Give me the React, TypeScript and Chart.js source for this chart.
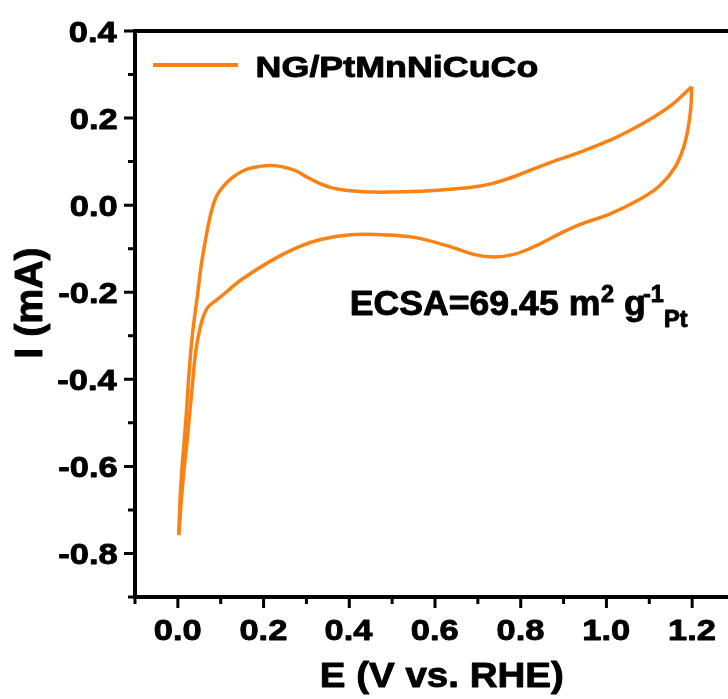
import { useEffect, useRef } from "react";
import { Chart, registerables } from "chart.js";
Chart.register(...registerables);

// ---- data ----
const seriesLabel = "NG/PtMnNiCuCo";
// anodic scan (0 V -> 1.2 V)
const anodicE = [0.002, 0.007, 0.019, 0.027, 0.034, 0.046, 0.055, 0.064, 0.078, 0.09, 0.106, 0.127, 0.147, 0.165, 0.19, 0.217, 0.245, 0.275, 0.302, 0.333, 0.372, 0.434, 0.496, 0.566, 0.644, 0.706, 0.735, 0.765, 0.799, 0.861, 0.939, 1.01, 1.048, 1.11, 1.156, 1.199];
const anodicI = [-0.758, -0.643, -0.489, -0.374, -0.297, -0.205, -0.135, -0.082, -0.015, 0.02, 0.043, 0.063, 0.076, 0.084, 0.089, 0.091, 0.088, 0.079, 0.064, 0.049, 0.037, 0.031, 0.03, 0.032, 0.037, 0.044, 0.05, 0.059, 0.071, 0.095, 0.122, 0.15, 0.168, 0.202, 0.233, 0.272];
// cathodic scan (1.2 V -> 0 V)
const cathodicE = [1.199, 1.197, 1.191, 1.18, 1.16, 1.125, 1.079, 1.009, 0.939, 0.888, 0.83, 0.784, 0.737, 0.69, 0.628, 0.551, 0.473, 0.403, 0.333, 0.279, 0.217, 0.147, 0.115, 0.093, 0.069, 0.054, 0.042, 0.034, 0.023, 0.011, 0.002];
const cathodicI = [0.272, 0.225, 0.179, 0.133, 0.087, 0.045, 0.014, -0.02, -0.044, -0.067, -0.096, -0.113, -0.119, -0.113, -0.093, -0.074, -0.068, -0.068, -0.079, -0.097, -0.128, -0.172, -0.198, -0.216, -0.236, -0.274, -0.335, -0.412, -0.527, -0.643, -0.758];

const xMajorTicks = [0, 0.2, 0.4, 0.6, 0.8, 1.0, 1.2];
const xMinorTicks = [-0.1, 0.1, 0.3, 0.5, 0.7, 0.9, 1.1, 1.3];
const yMajorTicks = [0.4, 0.2, 0, -0.2, -0.4, -0.6, -0.8];
const yMinorTicks = [0.3, 0.1, -0.1, -0.3, -0.5, -0.7, -0.9];
const xTitle = "E (V vs. RHE)";
const yTitle = "I (mA)";
const ecsaText = "ECSA=69.45 m";

const COLOR = "#FA8214";
const FONT = '"Liberation Sans", Arial, Helvetica, sans-serif';

function extents(ctx: CanvasRenderingContext2D, text: string, size: number) {
  ctx.font = `bold ${size}px ${FONT}`;
  ctx.textAlign = "left";
  ctx.textBaseline = "alphabetic";
  const m = ctx.measureText(text);
  return { l: m.actualBoundingBoxLeft, w: m.actualBoundingBoxLeft + m.actualBoundingBoxRight, adv: m.width };
}

// draw text with horizontal scale sx; x refers to glyph box (left/center/right)
function drawScaled(ctx: CanvasRenderingContext2D, text: string, size: number, sx: number, x: number, baseline: number, align: string) {
  const e = extents(ctx, text, size);
  const wS = e.w * sx;
  const left = align === "left" ? x : align === "right" ? x - wS : x - wS / 2;
  ctx.save();
  ctx.translate(left, baseline);
  ctx.scale(sx, 1);
  ctx.fillText(text, e.l, 0);
  ctx.lineWidth = 0.9;
  ctx.strokeStyle = ctx.fillStyle as string;
  ctx.lineJoin = "round";
  ctx.strokeText(text, e.l, 0);
  ctx.restore();
  return left + wS;
}

function fitScale(ctx: CanvasRenderingContext2D, text: string, size: number, target: number) {
  return target / extents(ctx, text, size).w;
}

const decor = {
  id: "decor",
  afterDraw(chart: any) {
    const { ctx, chartArea, scales } = chart;
    const { left, top, right, bottom } = chartArea;
    const xs = scales.x;
    const ys = scales.y;
    ctx.save();
    ctx.fillStyle = "#000";
    ctx.strokeStyle = "#000";

    // ticks
    ctx.lineWidth = 3;
    ctx.lineCap = "butt";
    ctx.beginPath();
    xMajorTicks.forEach((v) => {
      const p = xs.getPixelForValue(v);
      ctx.moveTo(p, bottom);
      ctx.lineTo(p, bottom + 11);
    });
    xMinorTicks.forEach((v) => {
      const p = xs.getPixelForValue(v);
      ctx.moveTo(p, bottom);
      ctx.lineTo(p, bottom + 7);
    });
    yMajorTicks.forEach((v) => {
      const p = ys.getPixelForValue(v);
      ctx.moveTo(left, p);
      ctx.lineTo(left - 11, p);
    });
    yMinorTicks.forEach((v) => {
      const p = ys.getPixelForValue(v);
      ctx.moveTo(left, p);
      ctx.lineTo(left - 7, p);
    });
    ctx.stroke();

    // frame (left, bottom, top; right edge lies outside view)
    ctx.lineWidth = 4;
    ctx.strokeRect(left, top, right - left, bottom - top);

    // tick labels
    const tickSize = 30;
    const tsx = fitScale(ctx, "0.0", tickSize, 46);
    xMajorTicks.forEach((v) => {
      drawScaled(ctx, v.toFixed(1), tickSize, tsx, xs.getPixelForValue(v), 640, "center");
    });
    yMajorTicks.forEach((v) => {
      const lab = v.toFixed(1).replace("-0.0", "0.0");
      drawScaled(ctx, lab, tickSize, tsx, 117, ys.getPixelForValue(v) + 10.5, "right");
    });

    // axis titles
    const xtS = fitScale(ctx, xTitle, 35, 240);
    drawScaled(ctx, xTitle, 35, xtS, 442, 687, "center");
    ctx.save();
    ctx.translate(42, 302.5);
    ctx.rotate(-Math.PI / 2);
    ctx.scale(1, 1.09);
    const ytS = fitScale(ctx, yTitle, 36, 108);
    drawScaled(ctx, yTitle, 36, ytS, 0, 0, "center");
    ctx.restore();

    // legend
    const ds = chart.data.datasets[0];
    ctx.strokeStyle = ds.borderColor;
    ctx.lineWidth = 4;
    ctx.beginPath();
    ctx.moveTo(153, 65);
    ctx.lineTo(238, 65);
    ctx.stroke();
    ctx.fillStyle = "#000";
    const lS = fitScale(ctx, ds.label, 30, 280);
    drawScaled(ctx, ds.label, 30, lS, 258, 77, "left");

    // ECSA annotation
    const eS = fitScale(ctx, ecsaText, 35, 246.5);
    drawScaled(ctx, ecsaText, 35, eS, 351.7, 315, "left");
    drawScaled(ctx, "2", 23, eS, 601, 301.5, "left");
    drawScaled(ctx, "g", 35, eS, 625, 315, "left");
    const e2 = drawScaled(ctx, "-1", 23, eS, 643, 301.5, "left");
    drawScaled(ctx, "Pt", 23, eS, e2 + 1, 327, "left");

    ctx.restore();
  },
};

export default function App() {
  const ref = useRef<HTMLCanvasElement | null>(null);
  useEffect(() => {
    if (!ref.current) return;
    const mk = (E: number[], I: number[]) => E.map((e, i) => ({ x: e, y: I[i] }));
    const chart = new Chart(ref.current, {
      type: "scatter",
      data: {
        datasets: [
          { label: seriesLabel, data: mk(anodicE, anodicI), showLine: true, borderColor: COLOR, borderWidth: 3.5, pointRadius: 0, tension: 0.4, fill: false },
          { label: seriesLabel + " (return scan)", data: mk(cathodicE, cathodicI), showLine: true, borderColor: COLOR, borderWidth: 3.5, pointRadius: 0, tension: 0.4, fill: false },
        ],
      },
      options: {
        animation: false,
        responsive: false,
        layout: { padding: { left: 135, top: 31, right: 10, bottom: 102 } },
        scales: {
          x: { type: "linear", min: -0.1, max: 1.3, display: false },
          y: { type: "linear", min: -0.9, max: 0.4, display: false },
        },
        plugins: { legend: { display: false }, tooltip: { enabled: false } },
      },
      plugins: [decor],
    } as any);
    return () => chart.destroy();
  }, []);
  return (
    <div style={{ position: "fixed", left: 0, top: 0, width: 728, height: 699, overflow: "hidden", background: "#fff" }}>
      <canvas ref={ref} width={745} height={699} style={{ width: 745, height: 699, display: "block" }} />
    </div>
  );
}
